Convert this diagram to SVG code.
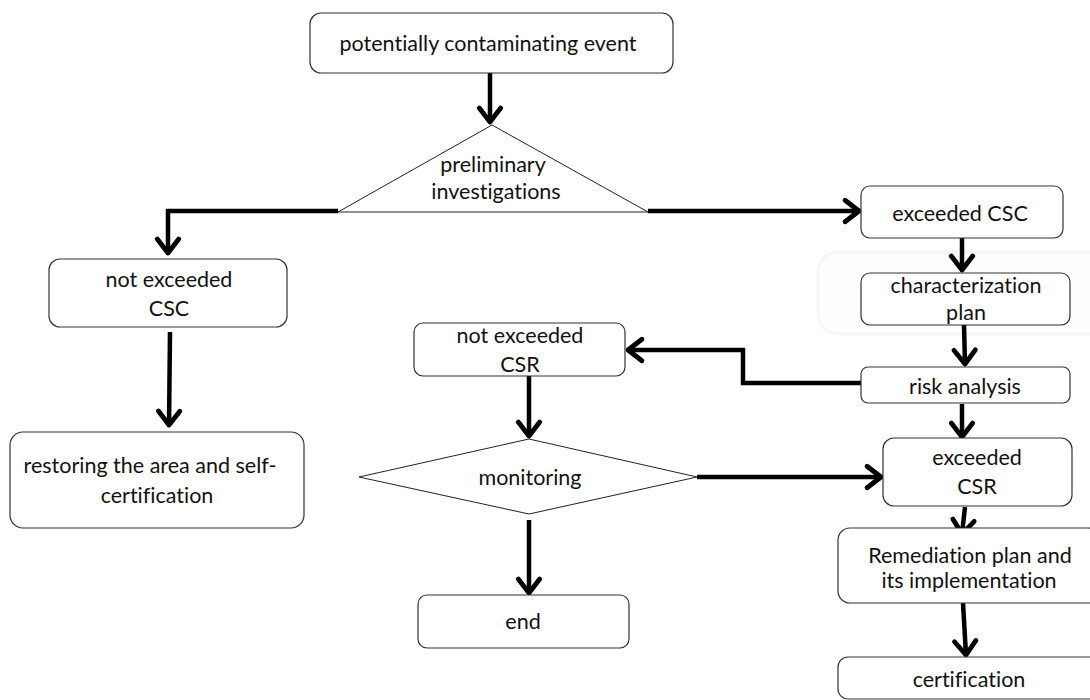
<svg xmlns="http://www.w3.org/2000/svg" width="1090" height="700" viewBox="0 0 1090 700">
<defs>
<style>
.box{fill:#ffffff;stroke:#333333;stroke-width:1.2}
.shape{fill:#ffffff;stroke:#222222;stroke-width:1}
.t{font-family:Lato,"Liberation Sans",sans-serif;font-size:21.5px;fill:#111111;text-anchor:middle;font-variant-ligatures:none}
.c{fill:none;stroke:#000000;stroke-width:4.5;stroke-linejoin:miter}
</style>
<marker id="ah" markerUnits="userSpaceOnUse" markerWidth="30" markerHeight="30" viewBox="-18 -14 22 28" refX="0" refY="0" orient="auto">
<path d="M-13,-10 L0,0 L-13,10" fill="none" stroke="#000" stroke-width="4.5" stroke-linejoin="round" stroke-linecap="round"/>
</marker>
</defs>
<rect width="1090" height="700" fill="#ffffff"/>
<rect x="818" y="252" width="290" height="82" rx="20" fill="#fdfdfd" stroke="#f6f6f6" stroke-width="3"/>

<g id="connectors">
<path class="c" d="M490,73 L490,122" marker-end="url(#ah)"/>
<path class="c" d="M338,211 L168,211 L168,253" marker-end="url(#ah)"/>
<path class="c" d="M648,211 L859,211" marker-end="url(#ah)"/>
<path class="c" d="M170,332 L169,425" marker-end="url(#ah)"/>
<path class="c" d="M962,238 L962,270" marker-end="url(#ah)"/>
<path class="c" d="M964,325 L965,364" marker-end="url(#ah)"/>
<path class="c" d="M861,383 L743,383 L743,350 L628,350" marker-end="url(#ah)"/>
<path class="c" d="M529,376 L529,436" marker-end="url(#ah)"/>
<path class="c" d="M962,404 L962,437" marker-end="url(#ah)"/>
<path class="c" d="M697,477 L881,477" marker-end="url(#ah)"/>
<path class="c" d="M529,520 L529,593" marker-end="url(#ah)"/>
<path class="c" d="M965,507 L962,534" marker-end="url(#ah)"/>
<path class="c" d="M963,603 L966,655" marker-end="url(#ah)"/>
</g>

<g id="event">
<rect class="box" x="310" y="13" width="363" height="60" rx="11"/>
<text class="t" x="488" y="51">potentially contaminating event</text>
</g>
<g id="preliminary">
<polygon class="shape" points="492,125 648,212 338,212"/>
<text class="t" x="493" y="172">preliminary</text>
<text class="t" x="496" y="199">investigations</text>
</g>
<g id="notExceededCSC">
<rect class="box" x="49" y="259" width="238" height="68" rx="11"/>
<text class="t" x="169" y="287">not exceeded</text>
<text class="t" x="169" y="316">CSC</text>
</g>
<g id="restoring">
<rect class="box" x="10" y="432" width="294" height="96" rx="13"/>
<text class="t" x="150" y="473">restoring the area and self-</text>
<text class="t" x="157" y="503">certification</text>
</g>
<g id="exceededCSC">
<rect class="box" x="861" y="186" width="202" height="52" rx="9"/>
<text class="t" x="960" y="221">exceeded CSC</text>
</g>
<g id="characterization">
<rect class="box" x="861" y="273" width="209" height="52" rx="9"/>
<text class="t" x="966" y="293">characterization</text>
<text class="t" x="966" y="320">plan</text>
</g>
<g id="riskAnalysis">
<rect class="box" x="861" y="367" width="209" height="36" rx="7"/>
<text class="t" x="965" y="394">risk analysis</text>
</g>
<g id="notExceededCSR">
<rect class="box" x="414" y="323" width="211" height="53" rx="9"/>
<text class="t" x="520" y="343">not exceeded</text>
<text class="t" x="520" y="372">CSR</text>
</g>
<g id="monitoring">
<polygon class="shape" points="529,439 697,477 529,514 359,477"/>
<text class="t" x="530" y="485">monitoring</text>
</g>
<g id="end">
<rect class="box" x="418" y="595" width="211" height="53" rx="9"/>
<text class="t" x="523" y="629">end</text>
</g>
<g id="exceededCSR">
<rect class="box" x="883" y="438" width="189" height="68" rx="11"/>
<text class="t" x="977" y="465">exceeded</text>
<text class="t" x="977" y="494">CSR</text>
</g>
<g id="remediation">
<rect class="box" x="838" y="528" width="262" height="75" rx="12"/>
<text class="t" x="970" y="563">Remediation plan and</text>
<text class="t" x="969" y="588">its implementation</text>
</g>
<g id="certification">
<rect class="box" x="838" y="657" width="262" height="42" rx="10"/>
<text class="t" x="969" y="687">certification</text>
</g>
</svg>
